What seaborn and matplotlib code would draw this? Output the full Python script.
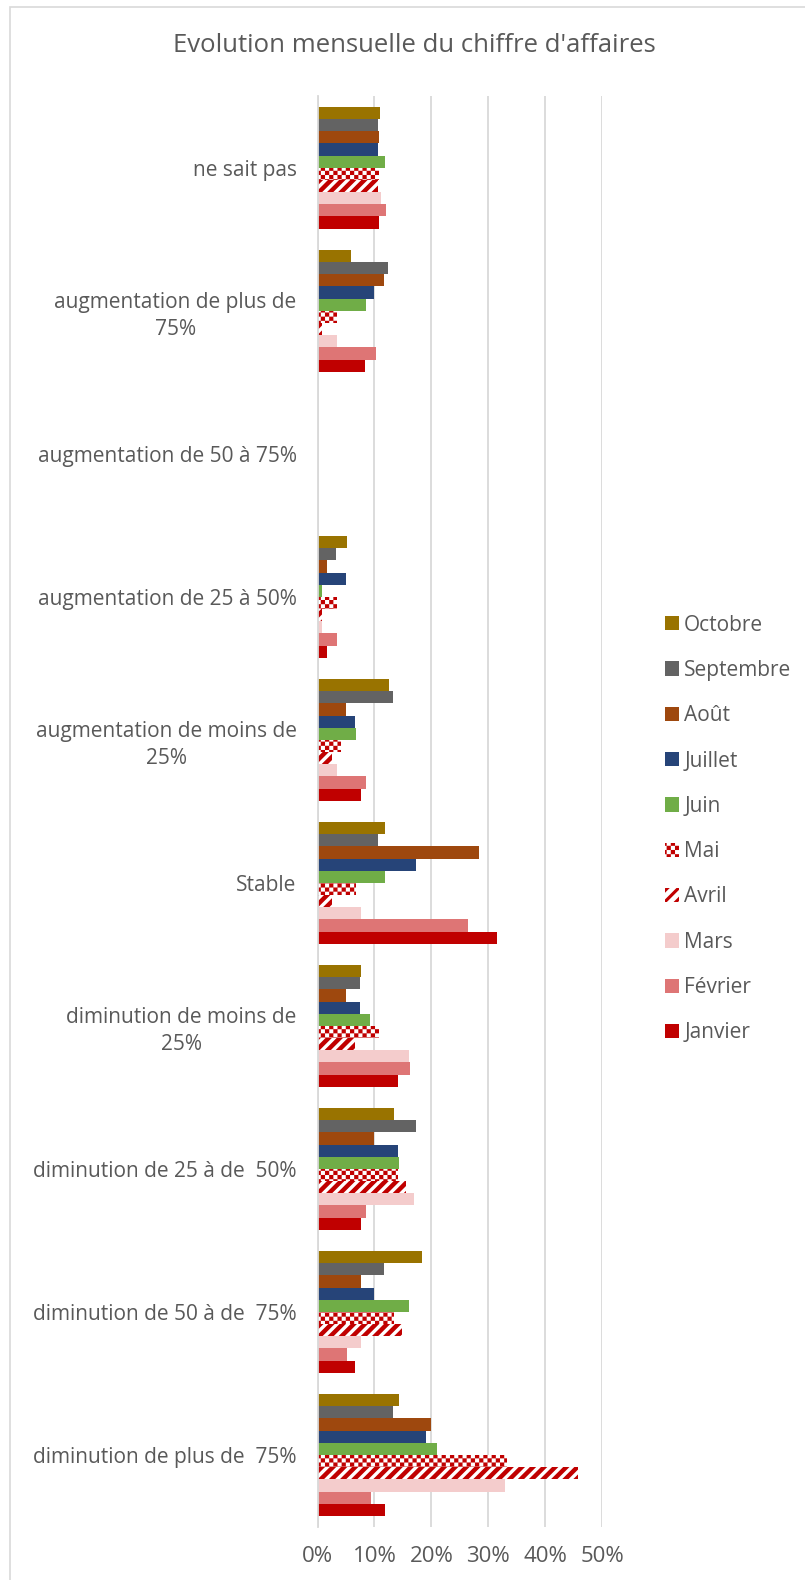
import warnings
import numpy as np
import pandas as pd
import matplotlib
matplotlib.use("Agg")
import matplotlib.pyplot as plt
import matplotlib.hatch as mhatch
from matplotlib.path import Path
from matplotlib.patches import Patch, Rectangle
from matplotlib.ticker import PercentFormatter
import seaborn as sns

warnings.filterwarnings("ignore")

categories = [
    "ne sait pas",
    "augmentation de plus de\n75%",
    "augmentation de 50 à 75%",
    "augmentation de 25 à 50%",
    "augmentation de moins de\n25%",
    "Stable",
    "diminution de moins de\n25%",
    "diminution de 25 à de  50%",
    "diminution de 50 à de  75%",
    "diminution de plus de  75%",
]
months = ["Octobre", "Septembre", "Août", "Juillet", "Juin",
          "Mai", "Avril", "Mars", "Février", "Janvier"]

octobre   = [11.0, 5.9, 0.0, 5.1, 12.6, 11.8, 7.6, 13.4, 18.4, 14.3]
septembre = [10.7, 12.4, 0.0, 3.3, 13.3, 10.7, 7.5, 17.3, 11.6, 13.3]
aout      = [10.8, 11.7, 0.0, 1.7, 5.0, 28.3, 5.0, 10.0, 7.6, 20.0]
juillet   = [10.7, 9.9, 0.0, 5.0, 6.6, 17.3, 7.5, 14.1, 9.9, 19.0]
juin      = [11.8, 8.5, 0.0, 0.8, 6.8, 11.8, 9.3, 14.3, 16.0, 21.0]
mai       = [10.8, 3.4, 0.0, 3.4, 4.2, 6.7, 10.8, 14.2, 13.4, 33.3]
avril     = [10.7, 0.8, 0.0, 0.8, 2.5, 2.5, 6.5, 15.6, 14.8, 45.8]
mars      = [11.1, 3.4, 0.0, 0.8, 3.4, 7.6, 16.1, 17.0, 7.7, 33.0]
fevrier   = [12.0, 10.3, 0.0, 3.4, 8.6, 26.5, 16.2, 8.6, 5.2, 9.4]
janvier   = [10.8, 8.3, 0.0, 1.7, 7.6, 31.6, 14.2, 7.6, 6.6, 11.8]

series = [octobre, septembre, aout, juillet, juin, mai, avril, mars, fevrier, janvier]

colors = {
    "Octobre": "#997300",
    "Septembre": "#636363",
    "Août": "#9E480E",
    "Juillet": "#264478",
    "Juin": "#70AD47",
    "Mai": "#C00000",
    "Avril": "#C00000",
    "Mars": "#F4CCCC",
    "Février": "#DE7575",
    "Janvier": "#C00000",
}

# checkerboard hatch ('c'), filled squares in the hatch tile
CHECKER_OK = False
try:
    class CheckerHatch(mhatch.HatchPatternBase):
        def __init__(self, hatch, density):
            k = hatch.count("c") if hatch else 0
            self.n = 12 * k
            self.cells = [(i, j) for i in range(self.n) for j in range(self.n)
                          if (i + j) % 2 == 0]
            self.num_vertices = len(self.cells) * 5

        def set_vertices_and_codes(self, vertices, codes):
            a = 1.0 / self.n
            sq = np.array([[0, 0], [1, 0], [1, 1], [0, 1], [0, 0]], float) * a
            cd = [Path.MOVETO, Path.LINETO, Path.LINETO, Path.LINETO, Path.CLOSEPOLY]
            for idx, (i, j) in enumerate(self.cells):
                vertices[idx * 5:(idx + 1) * 5] = sq + [i * a, j * a]
                codes[idx * 5:(idx + 1) * 5] = cd

    mhatch._hatch_types.append(CheckerHatch)
    CHECKER_OK = True
except Exception:
    CHECKER_OK = False

hatches = {"Mai": ("cc", 0.05) if CHECKER_OK else ("xxxx", 1.5),
           "Avril": ("///", 3.2)}

rows = []
for m, vals in zip(months, series):
    for c, v in zip(categories, vals):
        rows.append({"categorie": c, "mois": m, "valeur": v / 100.0})
df = pd.DataFrame(rows)

sns.set_theme(style="white")
plt.rcParams["font.family"] = ["Open Sans", "DejaVu Sans"]
plt.rcParams["hatch.linewidth"] = 1.5

TXT = "#595959"
GRID = "#D9D9D9"


def with_hatch_lw(artist, lw):
    if hasattr(artist, "set_hatch_linewidth"):
        try:
            artist.set_hatch_linewidth(lw)
        except Exception:
            pass
    if hasattr(artist, "_hatch_linewidth"):
        artist._hatch_linewidth = lw
    orig = artist.draw

    def draw(renderer, _orig=orig, _lw=lw):
        with plt.rc_context({"hatch.linewidth": _lw}):
            return _orig(renderer)
    artist.draw = draw


fig = plt.figure(figsize=(8.05, 15.8), dpi=100)
fig.patch.set_facecolor("white")

W, H = 805.0, 1580.0
# chart-area border (top/left visible, right/bottom cropped)
fig.add_artist(Rectangle((10 / W, -0.02), 1.05, 1.02 - 6.5 / H,
                         transform=fig.transFigure, fill=False,
                         edgecolor=GRID, linewidth=1.2, zorder=0))

ax = fig.add_axes([317.5 / W, 1 - 1526.5 / H, (602.3 - 317.5) / W, (1526.5 - 96.3) / H])

sns.barplot(data=df, y="categorie", x="valeur", hue="mois",
            order=categories, hue_order=months, palette=colors,
            orient="h", width=0.851, errorbar=None, legend=False,
            saturation=1, linewidth=0, ax=ax)

for m, cont in zip(months, ax.containers):
    if m in hatches:
        h, lw = hatches[m]
        for bar in cont:
            bar.set_facecolor("white")
            bar.set_edgecolor(colors[m])
            bar.set_linewidth(0)
            bar.set_hatch(h)
            with_hatch_lw(bar, lw)

ax.set_xlim(0, 0.5)
ax.set_ylim(len(categories) - 0.5, -0.5)
ax.set_xticks(np.arange(0, 0.51, 0.1))
ax.xaxis.set_major_formatter(PercentFormatter(1.0, decimals=0))
ax.grid(axis="x", color=GRID, linewidth=1.3)
ax.grid(axis="y", visible=False)
ax.set_axisbelow(True)
for s in ["top", "right", "bottom"]:
    ax.spines[s].set_visible(False)
ax.spines["left"].set_color(GRID)
ax.spines["left"].set_linewidth(1.3)
ax.set_xlabel("")
ax.set_ylabel("")
ax.tick_params(axis="x", length=0, pad=14, labelsize=16, labelcolor=TXT)
ax.tick_params(axis="y", length=0, pad=15, labelsize=15, labelcolor=TXT)
for lab in ax.get_yticklabels():
    lab.set_multialignment("center")
    lab.set_horizontalalignment("right")
    lab.set_linespacing(1.34)

fig.text(414 / W, 1 - 45 / H, "Evolution mensuelle du chiffre d'affaires",
         ha="center", va="center", fontsize=18.5, color=TXT)

handles = []
for m in months:
    if m in hatches:
        p = Patch(facecolor="white", edgecolor=colors[m], hatch=hatches[m][0], linewidth=0, label=m)
    else:
        p = Patch(facecolor=colors[m], edgecolor="none", linewidth=0, label=m)
    handles.append(p)
leg = fig.legend(handles=handles, loc="center left",
                 bbox_to_anchor=(665 / W, 1 - 829 / H),
                 frameon=False, fontsize=15, labelcolor=TXT,
                 handlelength=0.67, handleheight=0.67, handletextpad=0.25,
                 labelspacing=1.168, borderaxespad=0, borderpad=0)
for lh, m in zip(leg.legend_handles, months):
    if m in hatches:
        with_hatch_lw(lh, hatches[m][1] * (1.0 if m == "Mai" else 0.7))

fig.savefig("out.png", dpi=100, facecolor="white")
